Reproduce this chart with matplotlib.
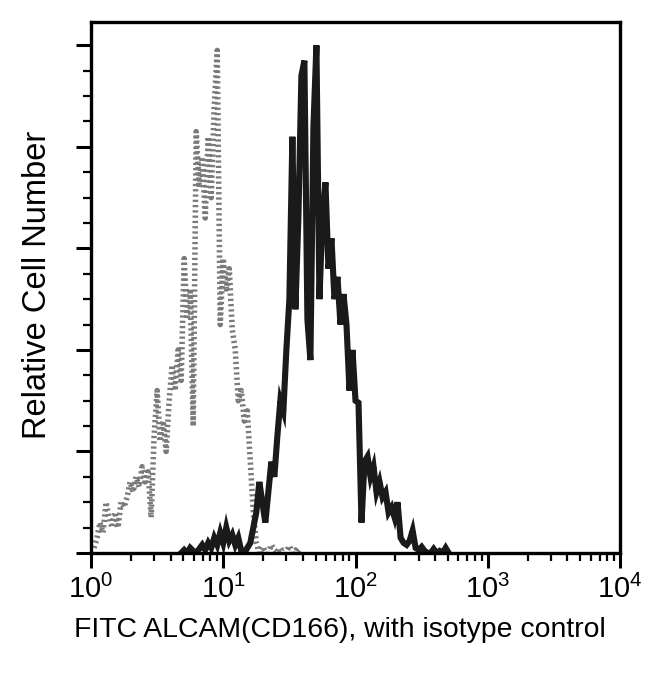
import numpy as np
import matplotlib
matplotlib.use('Agg')
import matplotlib.pyplot as plt
from matplotlib.ticker import MultipleLocator, LogLocator

plt.rcParams['font.family'] = 'Liberation Sans'
plt.rcParams['mathtext.fontset'] = 'custom'
plt.rcParams['mathtext.rm'] = 'Liberation Sans'

# channel grid: 4 log decades split into 176 channels
n_channels = 176
channels = np.logspace(0, 4, n_channels + 1)

# isotype control (grey), counts starting at channel 1
iso_start = 1
iso_counts = [5, 15, 30, 20, 50, 35, 25, 40, 25, 50,
              45, 55, 70, 60, 75, 65, 85, 70, 80, 35,
              115, 160, 110, 130, 100, 150, 185, 160, 200, 170,
              290, 230, 260, 125, 415, 360, 390, 330, 410, 350,
              440, 495, 225, 290, 260, 280, 220, 200, 150, 160,
              130, 140, 90, 40, 10, 0, 6, 2, 0, 8,
              3, 0, 5, 0, 2, 7, 0, 3, 0, 4]

# FITC ALCAM (CD166) sample (black), counts starting at channel 30
alcam_start = 30
alcam_counts = [0, 3, 0, 5, 2, 0, 4, 8, 3, 10,
                5, 15, 8, 20, 10, 25, 12, 18, 8, 15,
                2, 0, 5, 10, 25, 40, 70, 50, 30, 60,
                90, 75, 115, 150, 140, 200, 250, 410, 240, 330,
                470, 485, 230, 190, 420, 500, 250, 330, 365, 280,
                310, 250, 272, 225, 255, 225, 160, 200, 150, 148,
                30, 90, 95, 75, 85, 60, 70, 55, 60, 40,
                45, 35, 50, 15, 10, 8, 12, 22, 5, 3,
                6, 2, 0, 0, 4, 0, 2, 0, 5, 0]


def series(start, counts):
    x = channels[start:start + len(counts)]
    return x, np.array(counts)


fig = plt.figure(figsize=(6.5, 6.76), dpi=100)
ax = fig.add_axes([91 / 650, 1 - 553 / 676, 529 / 650, 531 / 676])

xi, yi = series(iso_start, iso_counts)
ax.plot(xi, yi, color='#7a7a7a', lw=4.0, ls=(0, (0.4, 0.55)))
xa, ya = series(alcam_start, alcam_counts)
ax.plot(xa, ya, color='#1a1a1a', lw=4.4, solid_joinstyle='miter')

ax.set_xscale('log')
ax.set_xlim(1, 1e4)
ax.set_ylim(0, 523)

ax.xaxis.set_major_locator(LogLocator(base=10))
ax.xaxis.set_minor_locator(LogLocator(base=10, subs=np.arange(2, 10)))
ax.yaxis.set_major_locator(MultipleLocator(100))
ax.yaxis.set_minor_locator(MultipleLocator(25))
ax.set_yticklabels([])

ax.tick_params(which='major', direction='out', length=11, width=2.2, labelsize=21, pad=5)
ax.tick_params(which='minor', direction='out', length=6, width=1.6)
for s in ax.spines.values():
    s.set_linewidth(2.4)

fig.text(340 / 650, 1 - 630 / 676, 'FITC ALCAM(CD166), with isotype control',
         ha='center', va='center', fontsize=20.4)
fig.text(38 / 650, 1 - 285 / 676, 'Relative Cell Number', rotation=90,
         ha='center', va='center', fontsize=23.5)

fig.savefig('out.png', dpi=100, facecolor='white')
